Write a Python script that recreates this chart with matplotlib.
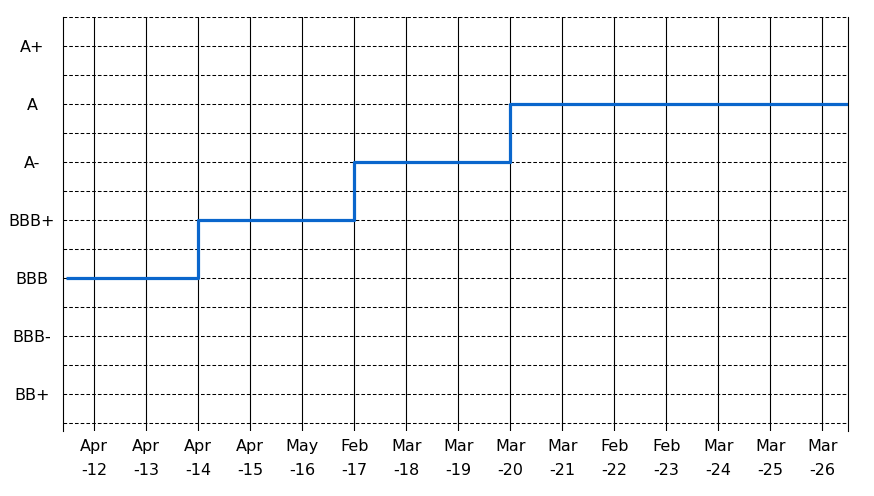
import matplotlib
matplotlib.use("Agg")
import matplotlib.pyplot as plt
import numpy as np

# Data
months = ["Apr", "Apr", "Apr", "Apr", "May", "Feb", "Mar", "Mar", "Mar",
          "Mar", "Feb", "Feb", "Mar", "Mar", "Mar"]
years = ["-12", "-13", "-14", "-15", "-16", "-17", "-18", "-19", "-20",
         "-21", "-22", "-23", "-24", "-25", "-26"]
rating_scale = ["BB+", "BBB-", "BBB", "BBB+", "A-", "A", "A+"]
ratings = ["BBB", "BBB", "BBB+", "BBB+", "BBB+", "A-", "A-", "A-",
           "A", "A", "A", "A", "A", "A", "A"]

fig = plt.figure(figsize=(8.74, 4.96), dpi=100)
ax = fig.add_axes([63.3 / 874, 1 - 431 / 496, 785 / 874, 414 / 496])

n = len(months)
xpos = np.arange(n)
levels = [rating_scale.index(r) for r in ratings]

x_left, x_right = -0.596, n - 0.5
line_x = np.concatenate([[x_left + 0.05], xpos, [x_right]])
line_y = np.concatenate([[levels[0]], levels, [levels[-1]]])
ax.plot(line_x, line_y, drawstyle="steps-post", color="#0a66cc",
        linewidth=2.3, solid_capstyle="butt", zorder=5)

ax.set_xlim(x_left, x_right)
ax.set_ylim(-0.633, len(rating_scale) - 0.5)

# horizontal dashed grid at every half step
for v in np.arange(-0.5, len(rating_scale), 0.5):
    ax.axhline(v, color="black", linewidth=0.75, linestyle=(0, (3.5, 2)), zorder=1)
# vertical solid grid
for x in xpos:
    ax.axvline(x, color="black", linewidth=0.8, zorder=1)

ax.set_xticks(xpos)
ax.set_xticklabels([f"{m}\n{y}" for m, y in zip(months, years)],
                   fontsize=11.5, linespacing=1.75)
ax.set_yticks(range(len(rating_scale)))
ax.set_yticklabels(rating_scale, fontsize=11.5, ha="center")
ax.tick_params(axis="x", length=0, pad=6)
ax.tick_params(axis="y", length=0, pad=22.5)

for s in ["top", "bottom"]:
    ax.spines[s].set_visible(False)
for s in ["left", "right"]:
    ax.spines[s].set_linewidth(0.8)
    ax.spines[s].set_color("black")

fig.savefig("out.png", dpi=100)
